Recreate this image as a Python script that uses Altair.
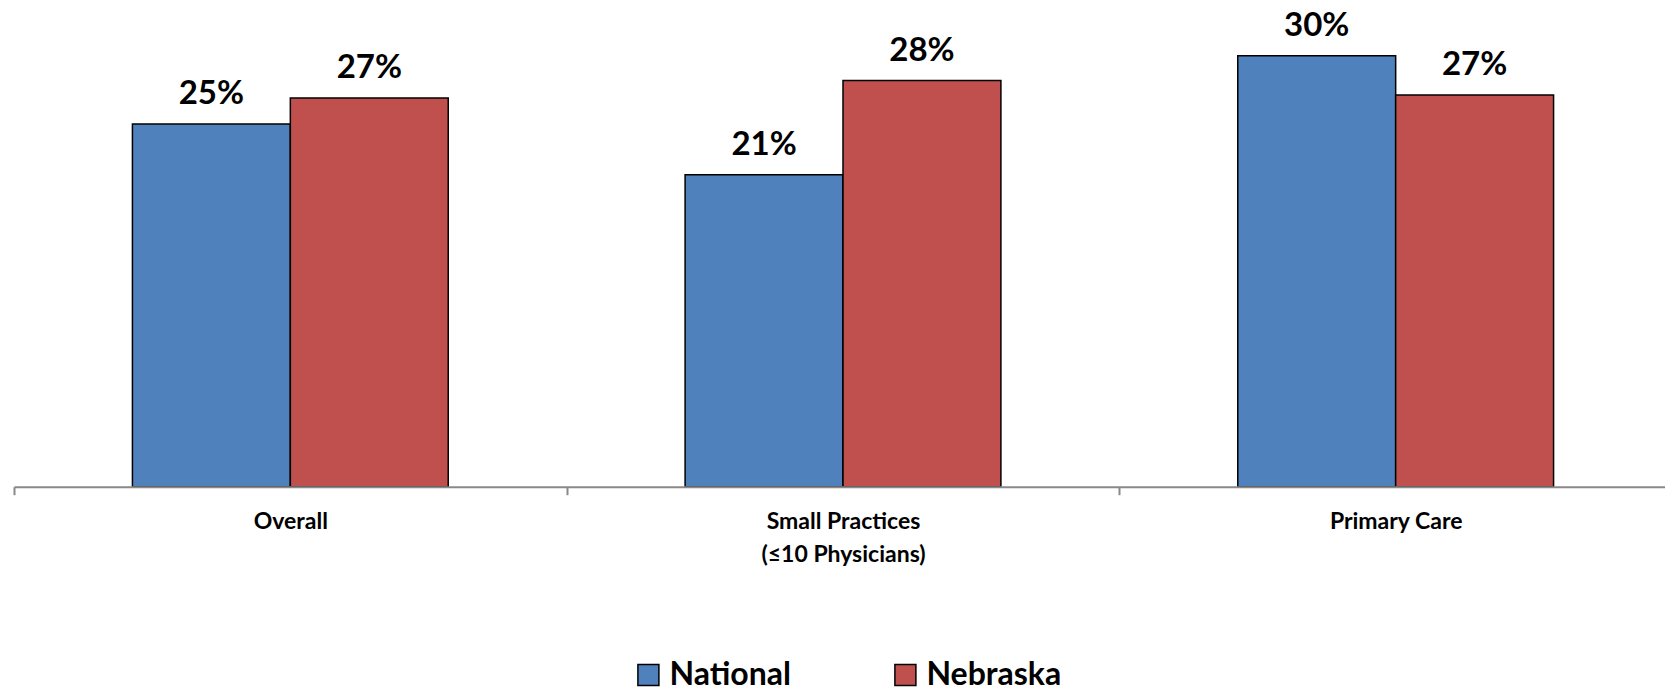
import altair as alt
import pandas as pd

categories = ["Overall", "Small Practices\n(≤10 Physicians)", "Primary Care"]
series = ["National", "Nebraska"]
national = [25.0, 21.5, 29.7]
nebraska = [26.8, 28.0, 27.0]
national_labels = ["25%", "21%", "30%"]
nebraska_labels = ["27%", "28%", "27%"]
colors = ["#4F81BD", "#C0504D"]

rows = []
for i, c in enumerate(categories):
    rows.append({"category": c, "series": series[0], "value": national[i], "label": national_labels[i]})
    rows.append({"category": c, "series": series[1], "value": nebraska[i], "label": nebraska_labels[i]})
df = pd.DataFrame(rows)

x_axis = alt.Axis(
    title=None, labelAngle=0, domainColor="#898989", domainWidth=2,
    tickColor="#898989", tickWidth=2, tickSize=8, tickBand="extent",
    labelFont="Lato", labelFontWeight="bold", labelFontSize=23, labelColor="black",
    labelPadding=16, labelLineHeight=33, labelLimit=0, zindex=1,
    labelExpr="split(datum.label, '\\n')",
)

base = alt.Chart(df).encode(
    x=alt.X("category:N", sort=categories,
            scale=alt.Scale(paddingInner=0, paddingOuter=0, range=[0, 1658]), axis=x_axis),
    xOffset=alt.XOffset("series:N", sort=series,
                        scale=alt.Scale(paddingInner=0, paddingOuter=0.75)),
    y=alt.Y("value:Q", scale=alt.Scale(domain=[0, 33], nice=False, zero=True), axis=None),
)

bars = base.mark_bar(stroke="black", strokeWidth=1.5).encode(
    color=alt.Color(
        "series:N", sort=series,
        scale=alt.Scale(domain=series, range=colors),
        legend=alt.Legend(
            title=None, orient="none", legendX=618.4, legendY=651,
            direction="horizontal", symbolType="square", symbolSize=441,
            symbolStrokeColor="black", symbolStrokeWidth=1.5, symbolOpacity=1,
            labelFont="Lato", labelFontWeight="bold", labelFontSize=32,
            labelColor="black", labelOffset=5, columnPadding=98, padding=0,
        ),
    )
)

text = base.mark_text(
    dy=-20, baseline="alphabetic", align="center",
    font="Lato", fontWeight="bold", fontSize=33, color="black",
).encode(text="label:N")

chart = alt.layer(bars, text).properties(
    width=1651, height=478.7,
    padding={"left": 6, "top": 0, "right": 0, "bottom": 202.3},
    autosize=alt.AutoSizeParams(type="none"),
).configure_view(stroke=None)

chart.save("out.html", embed_options={"renderer": "svg", "actions": False})
